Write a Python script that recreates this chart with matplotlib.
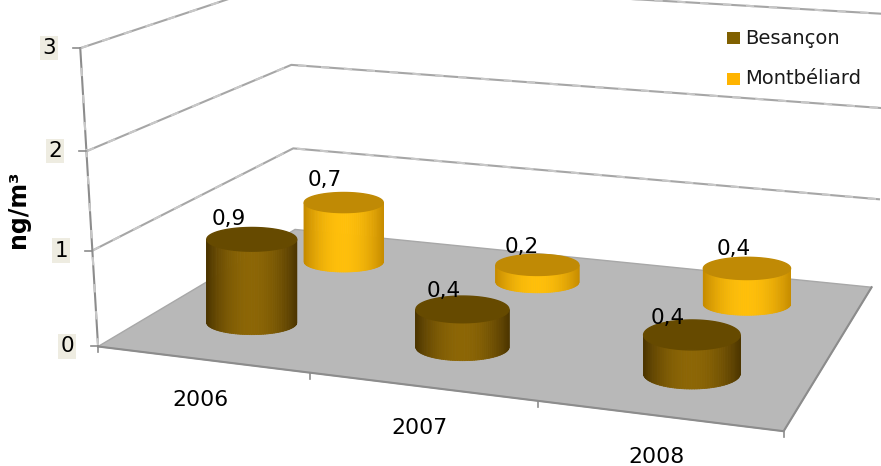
import numpy as np
import matplotlib
matplotlib.use('Agg')
import matplotlib.pyplot as plt
from matplotlib.collections import PolyCollection

years = ['2006', '2007', '2008']
series_names = ['Besançon', 'Montbéliard']
besancon = [0.9, 0.4, 0.4]
montbeliard = [0.7, 0.2, 0.4]
y_ticks = [0, 1, 2, 3]

plt.rcParams['font.family'] = ['DejaVu Sans']

# the chart is a 3D one, so I fit a camera on the box corners seen in the picture
# box coordinates are (category 0..1, depth 0..1, value)
box_pts = [(0, 0, 0), (1, 0, 0), (0, 1, 0), (1, 1, 0), (0, 0, 3),
           (0, 1, 1), (0, 1, 2), (1, 1, 1), (1, 1, 2), (1, 1, 3)]
img_pts = [(97, 346), (783, 433), (298, 231), (871, 287), (82, 47),
           (293, 148), (288, 65), (879, 196), (887, 108), (895, 17)]

rows = []
rhs = []
for (a, b, c), (px, py) in zip(box_pts, img_pts):
    rows.append([a, b, c, 1, 0, 0, 0, 0, -px * a, -px * b, -px * c])
    rows.append([0, 0, 0, 0, a, b, c, 1, -py * a, -py * b, -py * c])
    rhs += [px, py]
cam = np.linalg.lstsq(np.array(rows, float), np.array(rhs, float), rcond=None)[0]
cam = np.append(cam, 1).reshape(3, 4)


def project(a, b, c):
    a, b, c = np.broadcast_arrays(a, b, c)
    p = cam @ np.vstack([a.ravel(), b.ravel(), c.ravel(), np.ones(a.size)])
    return p[0] / p[2], p[1] / p[2]


def pts(a, b, c):
    return np.column_stack(project(a, b, c))


fig = plt.figure(figsize=(8.81, 4.66), dpi=100)
ax = fig.add_axes([0, 0, 1, 1])
ax.set_xlim(0, 881)
ax.set_ylim(466, 0)
ax.axis('off')

GRID = '#a6a6a6'
EDGE = '#8c8c8c'

# walls
for z in y_ticks[1:]:
    xy = pts([0, 0, 1], [0, 1, 1], z)
    ax.plot(xy[:, 0], xy[:, 1], color=GRID, lw=1.5, zorder=1)
    ax.plot(xy[:, 0], xy[:, 1], color='#c8c8c8', lw=1.5, ls=(0, (4, 7)), zorder=1)
xy = pts([0, 0], [0, 0], [0, y_ticks[-1]])
ax.plot(xy[:, 0], xy[:, 1], color=EDGE, lw=1.5, zorder=1)
ax.plot(xy[:, 0], xy[:, 1], color='#c8c8c8', lw=1.5, ls=(0, (4, 9)), zorder=1)

# floor
floor = pts([0, 1, 1, 0], [0, 0, 1, 1], 0)
ax.fill(floor[:, 0], floor[:, 1], facecolor='#b8b8b8', edgecolor='#a8a8a8', lw=1, zorder=2)
xy = pts([0, 1, 1], [0, 0, 1], 0)
ax.plot(xy[:, 0], xy[:, 1], color=EDGE, lw=1.5, zorder=2)

# ticks and labels
for z in y_ticks:
    x0, y0 = project(0, 0, z)
    ax.plot([x0[0] - 7, x0[0]], [y0[0], y0[0]], color=EDGE, lw=1.2, zorder=2)
    ax.text(x0[0] - 31, y0[0], str(z), fontsize=15.5, ha='center', va='center', zorder=6,
            bbox=dict(facecolor='#eeece1', edgecolor='none', pad=1.5))
for i in range(len(years) + 1):
    x0, y0 = project(i / len(years), 0, 0)
    ax.plot([x0[0], x0[0]], [y0[0], y0[0] + 6], color=EDGE, lw=1.2, zorder=2)
for i, year in enumerate(years):
    x0, y0 = project((i + 0.5) / len(years), 0, 0)
    ax.text(x0[0] - 2, y0[0] + 41, year, fontsize=15.8, ha='center', va='center', zorder=6)

ax.text(18, 209, 'ng/m³', fontsize=17, fontweight='bold', rotation=90, ha='center', va='center')

# where the cylinders sit along the category axis, a bit left of the band centres
bar_u = [0.159, 0.494, 0.834]


def shade(t, dark, light):
    # t runs -1..1 across the cylinder, brightest in the middle
    k = 1 - abs(t) ** 2
    return tuple(np.array(dark) + (np.array(light) - np.array(dark)) * k)


def cylinder(i, depth, value, ru, flat, top, dark, light, z):
    # the lids in the picture stay flat on screen, they do not follow the floor
    cu = bar_u[i]
    cx, cy = project(cu, depth, 0)
    _, ty = project(cu, depth, value)
    lx, _ = project(cu - ru, depth, 0)
    rx, _ = project(cu + ru, depth, 0)
    cx = cx[0]
    cy = cy[0]
    ty = ty[0]
    w = (rx[0] - lx[0]) / 2
    h = w * flat
    th = np.linspace(0, np.pi, 61)
    xs = cx + w * np.cos(th)
    dy = h * np.sin(th)
    polys, cols = [], []
    for k in range(len(th) - 1):
        polys.append([(xs[k], cy + dy[k]), (xs[k + 1], cy + dy[k + 1]),
                      (xs[k + 1], ty + dy[k + 1]), (xs[k], ty + dy[k])])
        cols.append(shade(np.cos(th[k]), dark, light))
    ax.add_collection(PolyCollection(polys, facecolors=cols, edgecolors=cols, linewidths=0.6, zorder=z))
    full = np.linspace(0, 2 * np.pi, 90)
    ax.fill(cx + w * np.cos(full), ty + h * np.sin(full), color=top, zorder=z + 0.1)
    return cx, ty - h


BROWN_DARK = (0.30, 0.21, 0.0)
BROWN_LIGHT = (0.55, 0.40, 0.02)
GOLD_DARK = (0.78, 0.55, 0.0)
GOLD_LIGHT = (1.0, 0.75, 0.04)

label_off_m = [(-19, -12), (-16, -7), (-13, -8)]
label_off_b = [(-23, -8), (-19, -5), (-24, -2)]

for i, val in enumerate(montbeliard):
    lx, ly = cylinder(i, 0.77, val, 0.0705 - 0.001 * i, 0.255, '#c08a05', GOLD_DARK, GOLD_LIGHT, 3)
    dx, dy = label_off_m[i]
    ax.text(lx + dx, ly + dy, f'{val}'.replace('.', ','), fontsize=15.5, ha='center', va='center', zorder=7)
for i, val in enumerate(besancon):
    lx, ly = cylinder(i, 0.26, val, 0.074 - 0.0025 * i, 0.264 + 0.023 * i, '#664a00', BROWN_DARK, BROWN_LIGHT, 4)
    dx, dy = label_off_b[i]
    ax.text(lx + dx, ly + dy, f'{val}'.replace('.', ','), fontsize=15.5, ha='center', va='center', zorder=7)

# legend
for name, col, ly in zip(series_names, ['#806000', '#ffb400'], [38, 79]):
    ax.add_patch(plt.Rectangle((727, ly - 6), 13, 12, facecolor=col, edgecolor='none', zorder=6))
    ax.text(745, ly, name, fontsize=14, ha='left', va='center', color='#1a1a1a', zorder=6)

fig.savefig('out.png', dpi=100)
